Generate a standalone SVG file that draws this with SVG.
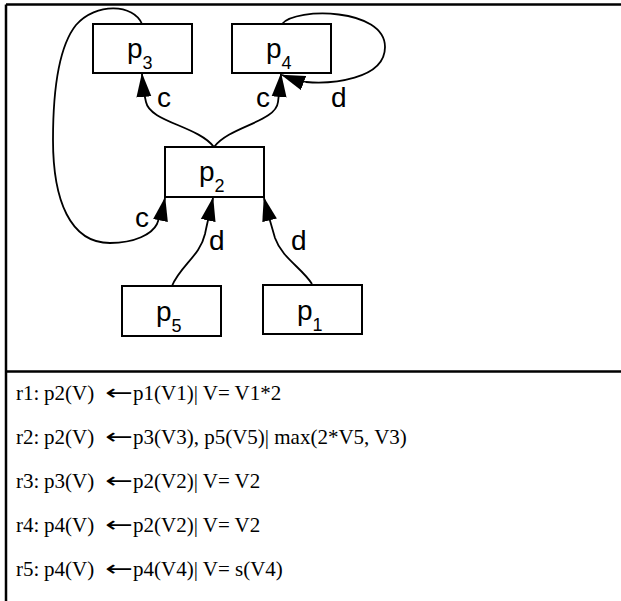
<svg xmlns="http://www.w3.org/2000/svg" width="621" height="601" viewBox="0 0 621 601">
  <style>
    .box { fill: #fff; stroke: #000; stroke-width: 2; }
    .lbl { font-family: "Liberation Sans", Arial, sans-serif; font-size: 28px; fill: #000; }
    .sub { font-size: 18px; }
    .edge { fill: none; stroke: #000; stroke-width: 1.8; marker-end: url(#arrow); }
    .frame { stroke: #000; stroke-width: 2.5; fill: none; }
    .rule { font-family: "Liberation Serif", "Times New Roman", serif; font-size: 21px; fill: #000; }
    .imp { font-family: "DejaVu Sans", sans-serif; font-size: 22px; }
  </style>
  <defs>
    <marker id="arrow" markerUnits="userSpaceOnUse" viewBox="0 0 24 16" markerWidth="24" markerHeight="16" refX="23" refY="8" orient="auto">
      <path d="M24,8 L0,0.5 L0,15.5 z" fill="#000"/>
    </marker>
  </defs>

  <rect width="621" height="601" fill="#fff"/>

  <!-- table frame -->
  <g id="frame">
    <path class="frame" d="M6,4.5 H621 M6,4.5 V601 M6,371.5 H621"/>
  </g>

  <!-- connectors -->
  <g id="edges">
    <path class="edge" d="M214,147 C198,126 150,122 146,102 C144,94 143,86 142,74"/>
    <path class="edge" d="M214,147 C230,126 276,122 278,102 C279,94 280,86 281,74"/>
    <path class="edge" d="M282,24 C296,7 385,8 385,47 C385,80 330,84 306,82 C298,80 290,78 282,75"/>
    <path class="edge" d="M142,24 C134,4 96,2 76,25 C56,50 53,100 53,140 C53,200 70,243 110,243 C135,243 152,234 157,224 C160,216 163,208 165,198"/>
    <path class="edge" d="M172,286 C180,266 200,256 205,234 C207,224 210,212 213,198"/>
    <path class="edge" d="M312,284 C302,268 282,258 275,238 C272,228 268,214 264,198"/>
    <text class="lbl" x="157" y="107">c</text>
    <text class="lbl" x="256" y="107">c</text>
    <text class="lbl" x="331" y="107">d</text>
    <text class="lbl" x="135" y="227">c</text>
    <text class="lbl" x="209" y="250">d</text>
    <text class="lbl" x="291" y="250">d</text>
  </g>

  <g id="p3">
    <rect class="box" x="93" y="24" width="99" height="49"/>
    <text class="lbl" x="127" y="58">p<tspan class="sub" dy="11">3</tspan></text>
  </g>
  <g id="p4">
    <rect class="box" x="232" y="24" width="99" height="49"/>
    <text class="lbl" x="266" y="58">p<tspan class="sub" dy="11">4</tspan></text>
  </g>
  <g id="p2">
    <rect class="box" x="165" y="147" width="99" height="50"/>
    <text class="lbl" x="199" y="181">p<tspan class="sub" dy="11">2</tspan></text>
  </g>
  <g id="p5">
    <rect class="box" x="122" y="286" width="99" height="50"/>
    <text class="lbl" x="156" y="321">p<tspan class="sub" dy="11">5</tspan></text>
  </g>
  <g id="p1">
    <rect class="box" x="263" y="285" width="99" height="49"/>
    <text class="lbl" x="297" y="320">p<tspan class="sub" dy="11">1</tspan></text>
  </g>

  <!-- rules -->
  <g id="rules" class="rule">
    <text x="16" y="400">r1:</text>
    <text x="44" y="400">p2(V)</text>
    <text class="imp" x="105" y="400" textLength="28" lengthAdjust="spacingAndGlyphs">←</text>
    <text x="133" y="400">p1(V1)| V= V1*2</text>
    <text x="16" y="444">r2:</text>
    <text x="44" y="444">p2(V)</text>
    <text class="imp" x="105" y="444" textLength="28" lengthAdjust="spacingAndGlyphs">←</text>
    <text x="133" y="444">p3(V3), p5(V5)| max(2*V5, V3)</text>
    <text x="16" y="488">r3:</text>
    <text x="44" y="488">p3(V)</text>
    <text class="imp" x="105" y="488" textLength="28" lengthAdjust="spacingAndGlyphs">←</text>
    <text x="133" y="488">p2(V2)| V= V2</text>
    <text x="16" y="532">r4:</text>
    <text x="44" y="532">p4(V)</text>
    <text class="imp" x="105" y="532" textLength="28" lengthAdjust="spacingAndGlyphs">←</text>
    <text x="133" y="532">p2(V2)| V= V2</text>
    <text x="16" y="576">r5:</text>
    <text x="44" y="576">p4(V)</text>
    <text class="imp" x="105" y="576" textLength="28" lengthAdjust="spacingAndGlyphs">←</text>
    <text x="133" y="576">p4(V4)| V= s(V4)</text>
  </g>
</svg>
